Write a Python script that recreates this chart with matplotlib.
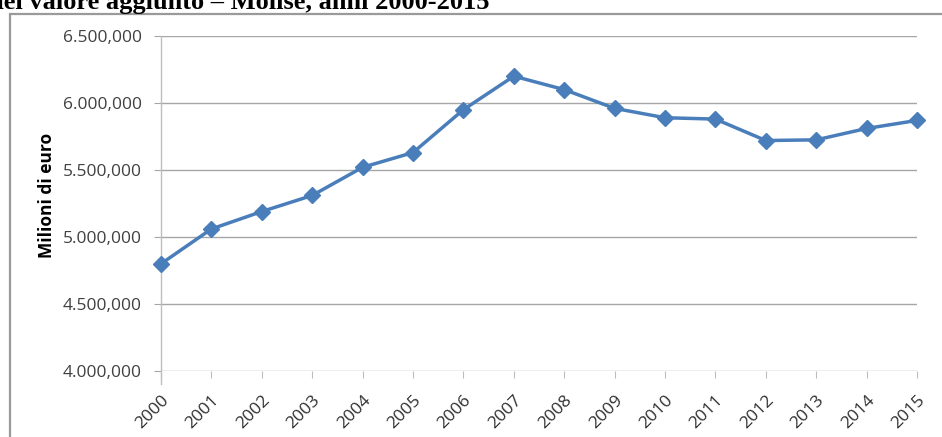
import matplotlib
matplotlib.use("Agg")
import matplotlib.pyplot as plt
from matplotlib.patches import Rectangle
from matplotlib.transforms import ScaledTranslation, blended_transform_factory

years = [2000, 2001, 2002, 2003, 2004, 2005, 2006, 2007,
         2008, 2009, 2010, 2011, 2012, 2013, 2014, 2015]
values = [4800000, 5060000, 5190000, 5310000, 5520000, 5630000, 5950000, 6200000,
          6100000, 5960000, 5890000, 5880000, 5720000, 5725000, 5810000, 5870000]
y_ticks = [4000000, 4500000, 5000000, 5500000, 6000000, 6500000]
y_tick_labels = ["4.000,000", "4.500,000", "5.000,000", "5.500,000", "6.000,000", "6.500,000"]
title_text = "del valore aggiunto \u2013 Molise, anni 2000-2015"
y_label = "Milioni di euro"

W, H = 942, 437
fig = plt.figure(figsize=(W / 100, H / 100), dpi=100)
fig.patch.set_facecolor("white")

# outer chart frame
fig.patches.append(Rectangle((10 / W, -0.05), 1.1, 1 - 14 / H + 0.05,
                             transform=fig.transFigure, fill=False,
                             edgecolor="#9a9a9a", linewidth=1.6, zorder=0))

# clipped caption at top
fig.text(-11 / W, 1 - 8.5 / H, title_text, fontfamily="Liberation Serif",
         fontweight="bold", fontsize=19, va="baseline", ha="left", color="black")

ax = fig.add_axes([161 / W, 1 - 371 / H, 756 / W, 335 / H])
ax.plot(range(len(years)), values, color="#4A7EBB", linewidth=2.5,
        marker="D", markersize=8.5, markeredgecolor="#4A7EBB", zorder=3, clip_on=False)

ax.set_xlim(0, len(years) - 1)
ax.set_ylim(y_ticks[0], y_ticks[-1])
ax.set_yticks(y_ticks)
ax.set_yticklabels(y_tick_labels)
ax.set_xticks(range(len(years)))
ax.set_xticklabels([])

for lab in ax.get_yticklabels():
    lab.set_fontfamily("Open Sans")
    lab.set_fontsize(12.5)
    lab.set_color("#404040")

# rotated year labels placed below each tick
base = blended_transform_factory(ax.transData, ax.transAxes)
offset = ScaledTranslation(0 / 100, -21 / 100, fig.dpi_scale_trans)
for i, yr in enumerate(years):
    ax.text(i, 0, str(yr), transform=base + offset, rotation=45,
            rotation_mode="anchor", ha="right", va="top",
            fontfamily="Open Sans", fontsize=12.5, color="#303030", clip_on=False)

ax.grid(axis="y", color="#a6a6a6", linewidth=1.0)
ax.grid(axis="x", visible=False)
ax.set_axisbelow(True)
for s in ["top", "right", "bottom"]:
    ax.spines[s].set_visible(False)
ax.spines["left"].set_color("#bdbdbd")
ax.spines["left"].set_linewidth(1.0)
ax.spines["left"].set_bounds(y_ticks[0] - 100000, y_ticks[-1])
ax.tick_params(axis="y", length=5, color="#a6a6a6", pad=9)
ax.tick_params(axis="x", length=5, color="#bdbdbd", pad=8, direction="out")

ax.set_ylabel(y_label, fontfamily="Open Sans", fontweight="bold", fontsize=12.5,
              color="black")
ax.yaxis.set_label_coords((56 - 161) / 756, (371 - 195) / 335)

fig.savefig("out.png", dpi=100, facecolor="white")
